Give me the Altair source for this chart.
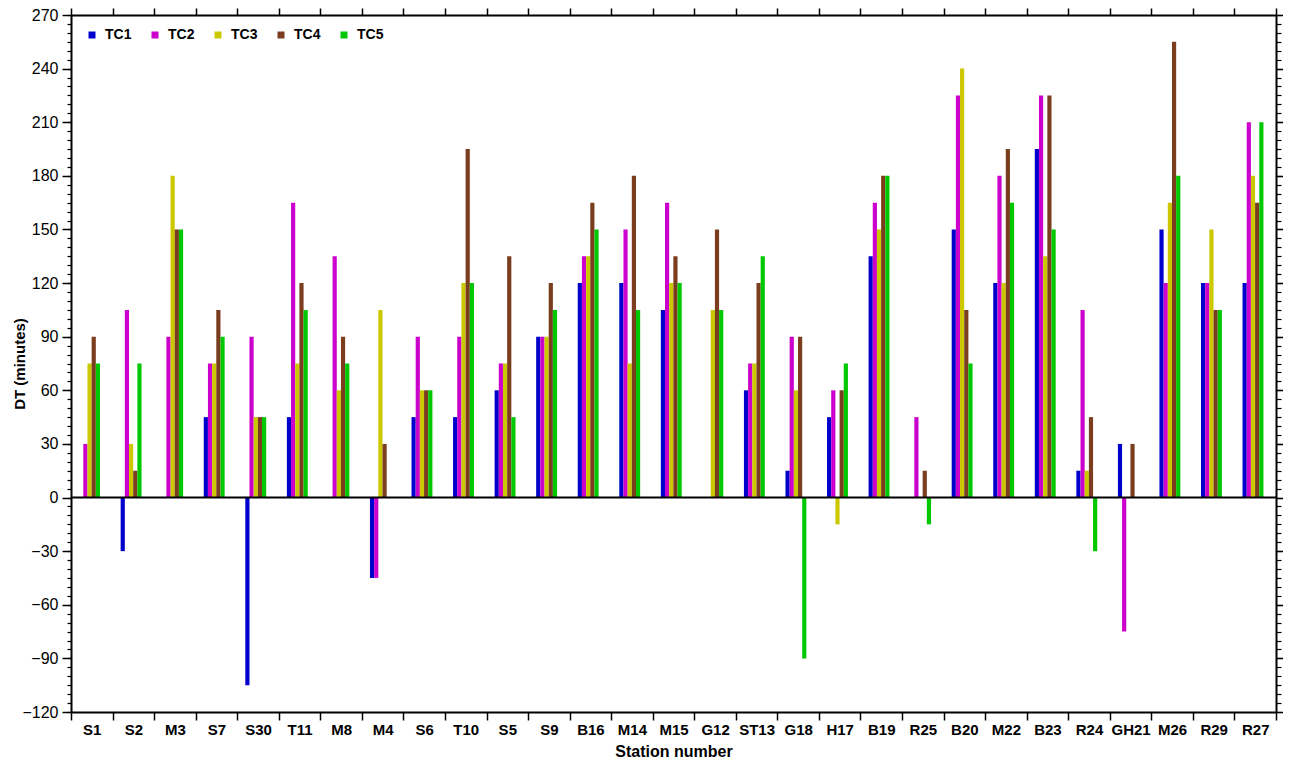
import altair as alt
import pandas as pd

stations = ["S1", "S2", "M3", "S7", "S30", "T11", "M8", "M4", "S6", "T10",
            "S5", "S9", "B16", "M14", "M15", "G12", "ST13", "G18", "H17", "B19",
            "R25", "B20", "M22", "B23", "R24", "GH21", "M26", "R29", "R27"]

tc1 = [0, -30, 0, 45, -105, 45, 0, -45, 45, 45, 60, 90, 120, 120, 105, 0, 60, 15, 45, 135,
       0, 150, 120, 195, 15, 30, 150, 120, 120]
tc2 = [30, 105, 90, 75, 90, 165, 135, -45, 90, 90, 75, 90, 135, 150, 165, 0, 75, 90, 60, 165,
       45, 225, 180, 225, 105, -75, 120, 120, 210]
tc3 = [75, 30, 180, 75, 45, 75, 60, 105, 60, 120, 75, 90, 135, 75, 120, 105, 75, 60, -15, 150,
       0, 240, 120, 135, 15, 0, 165, 150, 180]
tc4 = [90, 15, 150, 105, 45, 120, 90, 30, 60, 195, 135, 120, 165, 180, 135, 150, 120, 90, 60, 180,
       15, 105, 195, 225, 45, 30, 255, 105, 165]
tc5 = [75, 75, 150, 90, 45, 105, 75, 0, 60, 120, 45, 105, 150, 105, 120, 105, 135, -90, 75, 180,
       -15, 75, 165, 150, -30, 0, 180, 105, 210]

series = ["TC1", "TC2", "TC3", "TC4", "TC5"]
colors = ["#0000CC", "#CC00CC", "#CCC800", "#7A3E1E", "#00C800"]

rows = []
for name, vals in zip(series, [tc1, tc2, tc3, tc4, tc5]):
    for st, v in zip(stations, vals):
        rows.append({"station": st, "tc": name, "value": v})
df = pd.DataFrame(rows)

FONT = "Liberation Sans"
ydom = [-120, 270]
major = list(range(-120, 271, 30))
minor = list(range(-120, 271, 5))

W, H = 1205, 697

xscale = alt.Scale(paddingInner=0, paddingOuter=0)
yscale = alt.Scale(domain=ydom, nice=False, zero=False)
offscale = alt.Scale(range=[8.1, 29.0], paddingInner=0, paddingOuter=0)

base = alt.Chart(df)

bars = base.mark_bar(strokeWidth=0).encode(
    x=alt.X("station:N", sort=stations, scale=xscale, title="Station number",
            axis=alt.Axis(orient="bottom", tickBand="extent", tickSize=8, tickWidth=1.5,
                          labelAngle=0, labelFont=FONT, labelFontSize=15, labelFontWeight="bold",
                          labelPadding=2, titleFont=FONT, titleFontSize=16, titleFontWeight="bold",
                          titleY=44, titleBaseline="alphabetic",
                          domainWidth=2, domainColor="black", tickColor="black",
                          labelColor="black", titleColor="black")),
    y=alt.Y("value:Q", scale=yscale, title="DT (minutes)",
            axis=alt.Axis(orient="left", values=major, tickSize=9, tickWidth=1.5,
                          labelFont=FONT, labelFontSize=16, labelPadding=4,
                          titleFont=FONT, titleFontSize=15, titleFontWeight="bold",
                          titleX=-44, titleY=H / 2, titleAngle=270, titleBaseline="bottom",
                          titleAlign="center",
                          domainWidth=2, domainColor="black",
                          tickColor="black", labelColor="black", titleColor="black", grid=False)),
    xOffset=alt.XOffset("tc:N", scale=offscale, sort=series),
    color=alt.Color("tc:N", sort=series, scale=alt.Scale(domain=series, range=colors),
                    legend=alt.Legend(title=None, orient="none", legendX=14, legendY=13,
                                      direction="horizontal", columns=5, symbolType="square",
                                      symbolSize=49, symbolStrokeWidth=0, labelFont=FONT,
                                      labelFontSize=14, labelFontWeight="bold", labelOffset=6,
                                      columnPadding=16, padding=0, labelColor="black")),
)

zero = alt.Chart(pd.DataFrame({"z": [0]})).mark_rule(color="black", strokeWidth=2).encode(
    y=alt.Y("z:Q", scale=yscale, axis=None)
)

top_right = base.mark_bar(opacity=0).encode(
    x=alt.X("station:N", sort=stations, scale=xscale, title=None,
            axis=alt.Axis(orient="top", tickBand="extent", tickSize=7, tickWidth=1.5,
                          labels=False, domainWidth=2, domainColor="black", tickColor="black")),
    y=alt.Y("value:Q", scale=yscale, title=None,
            axis=alt.Axis(orient="right", values=major, tickSize=7, tickWidth=1.5,
                          labels=False, domainWidth=2, domainColor="black", tickColor="black",
                          grid=False)),
    xOffset=alt.XOffset("tc:N", scale=offscale, sort=series),
)

minor_df = pd.DataFrame({"m": minor})
minor_left = alt.Chart(minor_df).mark_tick(opacity=0).encode(
    y=alt.Y("m:Q", scale=yscale, title=None,
            axis=alt.Axis(orient="left", values=minor, tickSize=4, tickWidth=1.2,
                          labels=False, domain=False, tickColor="black", grid=False)),
)
minor_right = alt.Chart(minor_df).mark_tick(opacity=0).encode(
    y=alt.Y("m:Q", scale=yscale, title=None,
            axis=alt.Axis(orient="right", values=minor, tickSize=5, tickWidth=1.2,
                          labels=False, domain=False, tickColor="black", grid=False)),
)

chart = alt.layer(bars, zero, top_right, minor_left, minor_right).resolve_axis(
    x="independent", y="independent"
).properties(
    width=W, height=H,
    autosize=alt.AutoSizeParams(type="none"),
    padding={"left": 63, "top": 7, "right": 7, "bottom": 48},
).configure_view(stroke="black", strokeWidth=2).configure(background="white")

chart.save("out.html", embed_options={"renderer": "svg", "actions": False})
